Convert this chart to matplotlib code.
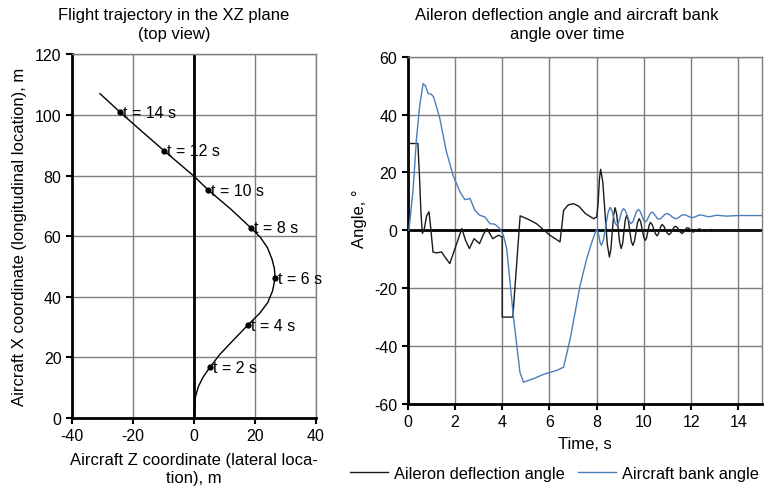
import matplotlib
matplotlib.use("Agg")
import matplotlib.pyplot as plt

plt.rcParams['font.family'] = ['Liberation Sans', 'DejaVu Sans']
plt.rcParams['axes.unicode_minus'] = False

# trajectory in the XZ plane (Z lateral, X longitudinal)
traj_z = [0, 0.2, 0.5, 1.5, 3.0, 5.2, 8.5, 13.2, 17.6, 21.5, 24.2, 25.8, 26.6, 26.4, 25.6, 24.1,
          21.8, 18.7, 12.0, 4.7, 0.0, -9.7, -17.0, -24.2, -30.8]
traj_x = [0, 3, 7, 10.5, 13.5, 16.7, 21, 26, 30.6, 34.5, 38.1, 42, 46.2, 49.2, 52.4, 56.2,
          59.6, 62.7, 69, 75.2, 79.8, 88.1, 94.5, 100.9, 107]
mark_t = [2, 4, 6, 8, 10, 12, 14]
mark_z = [5.2, 17.6, 26.6, 18.7, 4.7, -9.7, -24.2]
mark_x = [16.7, 30.6, 46.2, 62.7, 75.2, 88.1, 100.9]

# aileron deflection angle over time
ail_t = [0, 0, 0.43, 0.5, 0.56, 0.62, 0.7, 0.8, 0.9, 0.96, 1.07, 1.2, 1.43, 1.6, 1.78, 2.0,
         2.29, 2.45, 2.61, 2.81, 3.04, 3.2, 3.35, 3.6, 3.84, 4.0, 4.0, 4.45, 4.76, 5.1, 5.45,
         6.02, 6.45, 6.6, 6.8, 7.02, 7.25, 7.52, 7.87, 8.0,
         8.06, 8.12, 8.17, 8.26, 8.355, 8.45, 8.54, 8.6, 8.66, 8.72, 8.78, 8.845, 8.91, 8.975,
         9.04, 9.1, 9.155, 9.21, 9.27, 9.335, 9.4, 9.465, 9.53, 9.6, 9.665, 9.73, 9.8, 9.865,
         9.93, 9.995, 10.06, 10.115, 10.17, 10.225, 10.28, 10.35, 10.42, 10.49, 10.56, 10.61,
         10.665, 10.72, 10.77, 10.84, 10.915, 10.99, 11.06, 11.13, 11.2, 11.27, 11.34, 11.41,
         11.48, 11.55, 11.62, 11.675, 11.73, 11.785, 11.84, 11.905, 11.97, 12.035, 12.1,
         12.22, 12.35, 12.47, 12.6, 12.72, 12.85, 12.97, 13.1, 13.22, 13.35, 13.6, 15.0]
ail_v = [0, 30, 30, 18.0, 6.0, -1.1, 0.5, 5.0, 6.4, 2.0, -7.5, -7.8, -7.5, -9.5, -11.5, -6.3,
         0.6, -3.5, -6.3, -2.9, -4.6, -1.5, 0.6, -2.9, -1.7, -2.3, -30, -30, 5.0, 3.8, 2.3,
         -1.7, -4.0, 6.9, 8.8, 9.2, 8.3, 5.8, 4.0, 4.6,
         9.0, 18.0, 21.1, 16.7, 5.95, -4.8, -9.2, -6.7, -0.7, 5.3, 7.8, 5.7, 0.75, -4.2,
         -6.3, -4.6, -0.55, 3.5, 5.2, 3.7, 0.0, -3.7, -5.2, -3.85, -0.6, 2.65, 4.0, 2.9,
         0.25, -2.4, -3.5, -2.6, -0.4, 1.8, 2.7, 2.0, 0.4, -1.2, -1.9, -1.3,
         0.05, 1.4, 2.0, 1.5, 0.25, -1.0, -1.5, -1.1, 0.0, 1.0, 1.4, 1.0,
         0.15, -0.7, -1.1, -0.75, -0.1, 0.6, 0.9, 0.7, 0.15, -0.4, -0.6,
         0.0, 0.5, 0.0, -0.4, 0.0, 0.3, 0.0, -0.2, 0.0, 0.1, 0.0, 0.0]

# aircraft bank angle over time
bank_t = [0, 0.05, 0.23, 0.37, 0.51, 0.65, 0.76, 0.86, 1.0, 1.1, 1.36, 1.64, 1.92, 2.21, 2.42,
          2.55, 2.64, 2.84, 3.05, 3.27, 3.48, 3.69, 3.9, 4.05, 4.19, 4.47, 4.75, 4.9, 5.32, 5.75,
          6.32, 6.6, 6.88, 7.3, 7.58, 7.8, 7.93, 8.0,
          8.05, 8.1, 8.15, 8.2, 8.29, 8.385, 8.48, 8.57, 8.64, 8.71, 8.78, 8.85, 8.92, 8.995,
          9.07, 9.14, 9.22, 9.3, 9.38, 9.46, 9.54, 9.615, 9.69, 9.77, 9.84, 9.915, 9.99, 10.06,
          10.13, 10.2, 10.27, 10.34, 10.41, 10.485, 10.56, 10.63, 10.72, 10.805, 10.89, 10.98,
          11.07, 11.16, 11.25, 11.34, 11.43, 11.515, 11.6, 11.69, 11.78, 11.87, 11.96, 12.05,
          12.14, 12.225, 12.31, 12.4, 12.49, 12.575, 12.66, 12.75, 12.84, 12.925, 13.01, 13.1,
          13.5, 14.0, 15.0]
bank_v = [0, 0, 14.4, 31.7, 43.3, 50.7, 49.8, 47.3, 47.0, 46.0, 38.6, 27.1, 19.0, 13.3, 10.6,
          10.8, 11.0, 6.9, 5.2, 4.6, 2.3, 2.1, 0.6, -1.7, -6.3, -29.4, -49.0, -52.5, -51.3, -49.8,
          -48.4, -47.3, -37.5, -19.0, -9.8, -4.0, -1.0, 0.3,
          -0.35, -2.35, -4.35, -5.2, -3.3, 1.35, 6.0, 7.9, 7.0, 4.8, 2.6, 1.7, 2.55, 4.6,
          6.65, 7.5, 6.7, 4.9, 3.1, 2.3, 3.0, 4.75, 6.5, 7.2, 6.6, 5.05, 3.5, 2.9,
          3.4, 4.6, 5.8, 6.3, 5.9, 5.05, 4.2, 3.8, 4.1, 4.8, 5.5, 5.8,
          5.5, 4.9, 4.3, 4.0, 4.2, 4.7, 5.2, 5.4, 5.25, 4.9, 4.55, 4.4,
          4.55, 4.85, 5.15, 5.3, 5.2, 5.0, 4.8, 4.7, 4.8, 4.95, 5.1, 5.2,
          4.9, 5.1, 5.1]

grid_c = '#7f7f7f'

fig = plt.figure(figsize=(7.65, 4.89), dpi=100)

# ---- left: trajectory ----
ax1 = fig.add_axes([0.094, 0.143, 0.319, 0.744])
ax1.plot(traj_z, traj_x, color='black', lw=1.0, zorder=3)
ax1.plot(mark_z, mark_x, 'o', color='black', ms=3.5, zorder=4)
for t, z, x in zip(mark_t, mark_z, mark_x):
    ax1.text(z + 1.0, x, f't = {t} s', va='center', ha='left', fontsize=11.5, zorder=5)
ax1.set_xlim(-40, 40)
ax1.set_ylim(0, 120)
ax1.set_xticks(range(-40, 41, 20))
ax1.set_yticks(range(0, 121, 20))
ax1.grid(True, color=grid_c, lw=1.0)
ax1.axvline(0, color='black', lw=2.0, zorder=2)
for s in ['top', 'right']:
    ax1.spines[s].set_color(grid_c)
    ax1.spines[s].set_linewidth(1.0)
ax1.spines['bottom'].set_linewidth(2.0)
ax1.spines['left'].set_linewidth(2.0)
ax1.tick_params(direction='out', length=4, width=1.5, labelsize=11.5)
ax1.set_xlabel('Aircraft Z coordinate (lateral loca-\ntion), m', fontsize=12,
               labelpad=6, linespacing=1.25)
ax1.set_ylabel('Aircraft X coordinate (longitudinal location), m', fontsize=12, labelpad=6)
fig.text(174 / 765, 1 - 8 / 489, 'Flight trajectory in the XZ plane\n(top view)',
         ha='center', va='top', fontsize=12, linespacing=1.35)

# ---- right: angles over time ----
ax2 = fig.add_axes([0.533, 0.172, 0.463, 0.710])
ax2.plot(ail_t, ail_v, color='#1a1a1a', lw=1.0, label='Aileron deflection angle', zorder=3)
ax2.plot(bank_t, bank_v, color='#4a7ebb', lw=1.0, label='Aircraft bank angle', zorder=3)
ax2.set_xlim(0, 15)
ax2.set_ylim(-60, 60)
ax2.set_xticks(range(0, 15, 2))
ax2.set_yticks(range(-60, 61, 20))
ax2.grid(True, color=grid_c, lw=1.0)
ax2.axhline(0, color='black', lw=2.0, zorder=2)
for s in ['top', 'right']:
    ax2.spines[s].set_color(grid_c)
    ax2.spines[s].set_linewidth(1.0)
ax2.spines['bottom'].set_linewidth(2.0)
ax2.spines['left'].set_linewidth(2.0)
ax2.tick_params(direction='out', length=4, width=1.5, labelsize=11.5)
ax2.set_xlabel('Time, s', fontsize=12, labelpad=5)
ax2.set_ylabel('Angle, °', fontsize=12)
ax2.yaxis.set_label_coords(-0.115, 0.535)
fig.text(567 / 765, 1 - 8 / 489, 'Aileron deflection angle and aircraft bank\nangle over time',
         ha='center', va='top', fontsize=12, linespacing=1.35)
ax2.legend(loc='upper center', bbox_to_anchor=(0.415, -0.15), ncol=2, frameon=False,
           fontsize=11.8, handlelength=2.3, columnspacing=0.8, handletextpad=0.4,
           borderaxespad=0.2)

fig.savefig('out.png', dpi=100)
